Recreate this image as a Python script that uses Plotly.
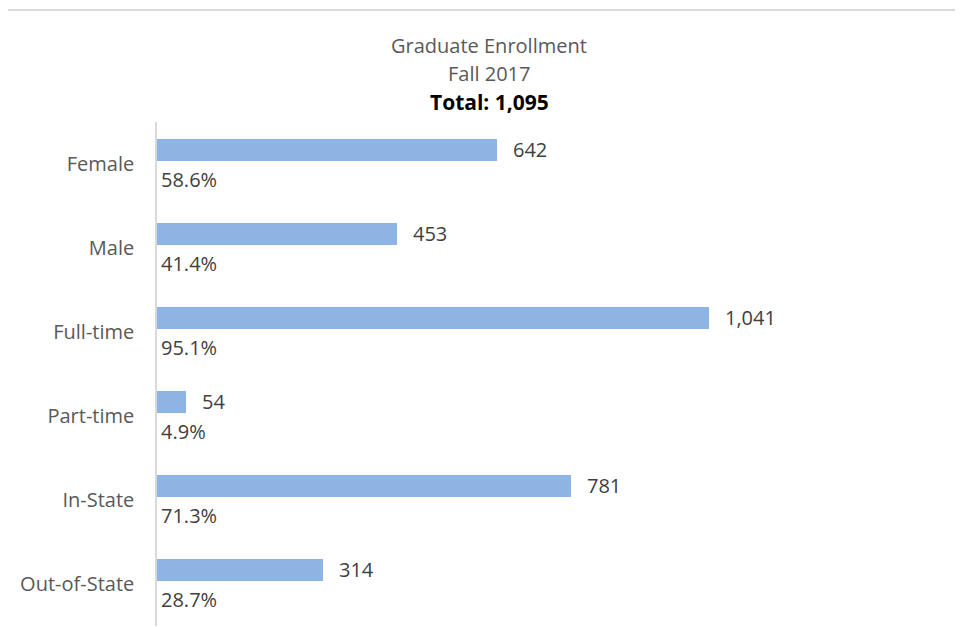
import plotly.graph_objects as go

categories = ["Female", "Male", "Full-time", "Part-time", "In-State", "Out-of-State"]
counts = [642, 453, 1041, 54, 781, 314]
pct_labels = ["58.6%", "41.4%", "95.1%", "4.9%", "71.3%", "28.7%"]
count_labels = ["642", "453", "1,041", "54", "781", "314"]

FONT = "Open Sans"
GRAY = "#595959"
BAR = "#8EB4E3"

ypos = list(range(len(categories)))

fig = go.Figure()
fig.add_trace(go.Bar(
    x=counts, y=ypos, orientation="h",
    width=0.262, offset=-0.30,
    marker=dict(color=BAR, line=dict(width=0)),
    hoverinfo="skip", showlegend=False,
))

ann = []
for i, (c, cl, pl) in enumerate(zip(counts, count_labels, pct_labels)):
    ann.append(dict(x=c, y=i - 0.17, xref="x", yref="y", text=cl, showarrow=False,
                    xanchor="left", yanchor="middle", xshift=14,
                    font=dict(family=FONT, size=20, color="#404040")))
    ann.append(dict(x=0, y=i + 0.19, xref="x", yref="y", text=pl, showarrow=False,
                    xanchor="left", yanchor="middle", xshift=2,
                    font=dict(family=FONT, size=20, color="#404040")))

fig.update_layout(
    width=963, height=627,
    margin=dict(l=149, r=178, t=114, b=9),
    paper_bgcolor="white", plot_bgcolor="white",
    font=dict(family=FONT, color=GRAY),
    bargap=0,
    xaxis=dict(range=[0, 1200], visible=False, fixedrange=True),
    yaxis=dict(range=[5.5, -0.5], tickmode="array", tickvals=ypos, ticktext=categories,
               showline=True, linecolor="#D9D9D9", linewidth=1.5, showgrid=False,
               zeroline=False, ticks="", ticklabelstandoff=17,
               tickfont=dict(family=FONT, size=20, color=GRAY)),
    annotations=ann,
)

title_lines = [("Graduate Enrollment", 45, False, 20), ("Fall 2017", 74, False, 20),
               ("<b>Total: 1,095</b>", 102, True, 21)]
for txt, ypx, bold, fs in title_lines:
    fig.add_annotation(
        x=(489 - 157) / 636, y=(626 - ypx) / 504, xref="paper", yref="paper",
        text=txt, showarrow=False, xanchor="center", yanchor="middle",
        font=dict(family=FONT, size=fs, color="#000000" if bold else GRAY),
    )

fig.add_shape(type="line", xref="paper", yref="paper",
              x0=-157 / 636, x1=(963 - 157) / 636, y0=(626 - 10) / 504, y1=(626 - 10) / 504,
              line=dict(color="#D9D9D9", width=2))

fig.write_html("out.html")
